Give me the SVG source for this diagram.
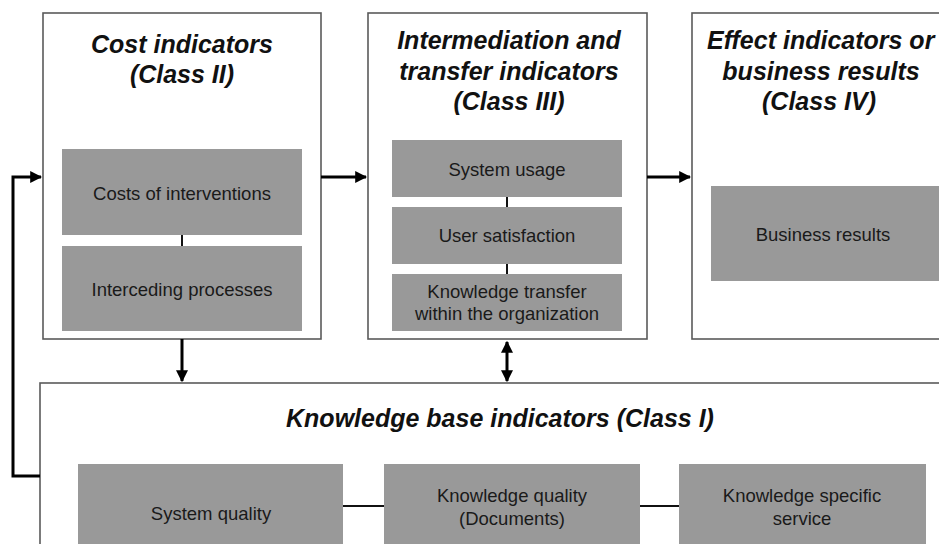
<svg xmlns="http://www.w3.org/2000/svg" width="939" height="544" viewBox="0 0 939 544">
<style>
.outer{fill:#fff;stroke:#5a5a5a;stroke-width:1.6}
.inner{fill:#999999;stroke:none}
.title{font-family:"Liberation Sans",Arial,sans-serif;font-weight:bold;font-style:italic;font-size:25px;fill:#111;text-anchor:middle}
.lbl{font-family:"Liberation Sans",Arial,sans-serif;font-size:18.5px;fill:#1a1a1a;text-anchor:middle}
.con{stroke:#000;stroke-width:3;fill:none}
.thin{stroke:#111;stroke-width:2;fill:none}
</style>
<defs>
<marker id="ah" viewBox="0 0 10 10" refX="9" refY="5" markerWidth="4" markerHeight="4" orient="auto-start-reverse" markerUnits="strokeWidth">
<path d="M0,0 L10,5 L0,10 z" fill="#000"/>
</marker>
</defs>
<rect width="939" height="544" fill="#fff"/>

<g id="class1">
<rect class="outer" x="40" y="383" width="920" height="200"/>
<text class="title" x="500" y="427">Knowledge base indicators (Class I)</text>
<g id="system-quality">
<rect class="inner" x="78" y="464" width="265" height="100"/>
<text class="lbl" x="211" y="520">System quality</text>
</g>
<g id="knowledge-quality">
<rect class="inner" x="384" y="464" width="256" height="100"/>
<text class="lbl" x="512" y="502">Knowledge quality</text>
<text class="lbl" x="512" y="525">(Documents)</text>
</g>
<g id="knowledge-service">
<rect class="inner" x="679" y="464" width="247" height="100"/>
<text class="lbl" x="802" y="502">Knowledge specific</text>
<text class="lbl" x="802" y="525">service</text>
</g>
</g>

<g id="class2">
<rect class="outer" x="43" y="13" width="278" height="326"/>
<text class="title" x="182" y="53">Cost indicators</text>
<text class="title" x="182" y="83">(Class II)</text>
<g id="costs-interventions">
<rect class="inner" x="62" y="149" width="240" height="86"/>
<text class="lbl" x="182" y="200">Costs of interventions</text>
</g>
<g id="interceding">
<rect class="inner" x="62" y="246" width="240" height="85"/>
<text class="lbl" x="182" y="296">Interceding processes</text>
</g>
</g>

<g id="class3">
<rect class="outer" x="368" y="13" width="279" height="326"/>
<text class="title" x="509" y="49">Intermediation and</text>
<text class="title" x="509" y="80">transfer indicators</text>
<text class="title" x="509" y="110">(Class III)</text>
<g id="system-usage">
<rect class="inner" x="392" y="140" width="230" height="57"/>
<text class="lbl" x="507" y="176">System usage</text>
</g>
<g id="user-satisfaction">
<rect class="inner" x="392" y="207" width="230" height="57"/>
<text class="lbl" x="507" y="242">User satisfaction</text>
</g>
<g id="knowledge-transfer">
<rect class="inner" x="392" y="274" width="230" height="57"/>
<text class="lbl" x="507" y="298">Knowledge transfer</text>
<text class="lbl" x="507" y="320">within the organization</text>
</g>
</g>

<g id="class4">
<rect class="outer" x="692" y="13" width="260" height="326"/>
<text class="title" x="707" y="49" style="text-anchor:start">Effect indicators or</text>
<text class="title" x="821" y="80">business results</text>
<text class="title" x="819" y="110">(Class IV)</text>
<g id="business-results">
<rect class="inner" x="711" y="186" width="240" height="95"/>
<text class="lbl" x="823" y="241">Business results</text>
</g>
</g>

<g id="connectors">
<line class="thin" x1="182" y1="235" x2="182" y2="246"/>
<line class="thin" x1="507" y1="197" x2="507" y2="207"/>
<line class="thin" x1="507" y1="264" x2="507" y2="274"/>
<line class="thin" x1="343" y1="506" x2="384" y2="506"/>
<line class="thin" x1="640" y1="506" x2="679" y2="506"/>
<line class="con" x1="321" y1="177" x2="366" y2="177" marker-end="url(#ah)"/>
<line class="con" x1="647" y1="177" x2="690" y2="177" marker-end="url(#ah)"/>
<line class="con" x1="182" y1="339" x2="182" y2="381" marker-end="url(#ah)"/>
<line class="con" x1="507" y1="342" x2="507" y2="381" marker-start="url(#ah)" marker-end="url(#ah)"/>
<polyline class="con" points="40,476 13,476 13,177 41,177" marker-end="url(#ah)"/>
</g>
</svg>
